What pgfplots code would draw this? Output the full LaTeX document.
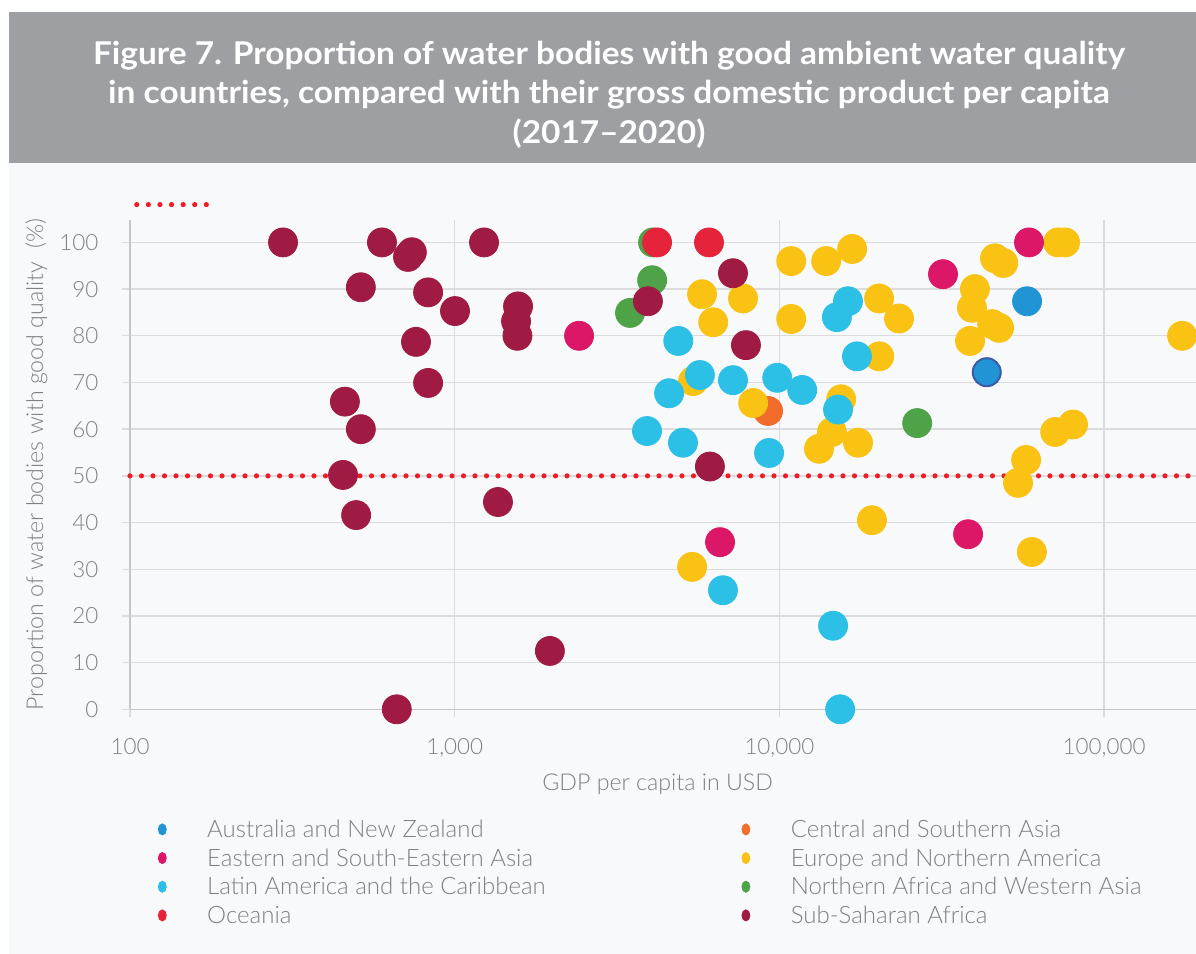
\documentclass[border=0pt]{standalone}
\usepackage{pgfplots}
\pgfplotsset{compat=1.18}
\usepackage{fontspec}
\IfFontExistsTF{Lato Light}
  {\setmainfont{Lato Light}[BoldFont=Lato Bold]}
  {\setmainfont{Lato}}

\definecolor{anz}{HTML}{2094D4}
\definecolor{anzedge}{HTML}{3B5BA9}
\definecolor{csa}{HTML}{F26C2C}
\definecolor{esea}{HTML}{DD1767}
\definecolor{ena}{HTML}{FAC314}
\definecolor{lac}{HTML}{2CC0E6}
\definecolor{nawa}{HTML}{4EA247}
\definecolor{oce}{HTML}{E5243B}
\definecolor{ssa}{HTML}{A01B43}
\definecolor{banner}{HTML}{9E9FA3}
\definecolor{panel}{HTML}{F8F9FB}
\definecolor{gridc}{HTML}{DCDCDC}
\definecolor{txt}{HTML}{808080}
\definecolor{thr}{HTML}{EE1D25}

\pgfplotsset{dot/.style={only marks, mark=*, mark size=7.25pt,
  mark options={draw=#1, fill=#1}, forget plot}}

\newlength\tw
\newcommand\tfont{\fontsize{15.7}{19}\selectfont\bfseries}

\begin{document}%
% title, squeezed to the width of the original line
\settowidth\tw{\tfont Figure 7. Proportion of water bodies with good ambient water quality}%
\pgfmathsetmacro\tsx{516/\the\tw}%
\begin{tikzpicture}
\fill[white] (0,0) rectangle (598pt,-477pt);
\fill[panel] (4.5pt,-81.35pt) rectangle (598pt,-477pt);
\fill[banner] (4.5pt,-6.15pt) rectangle (598pt,-81.35pt);

\node[anchor=base, text=white, font=\tfont] at (304.5pt,-32.15pt)
  {\scalebox{\tsx}[1]{Figure 7. Proportion of water bodies with good ambient water quality}};
\node[anchor=base, text=white, font=\tfont] at (304.5pt,-51.65pt)
  {\scalebox{\tsx}[1]{in countries, compared with their gross domestic product per capita}};
\node[anchor=base, text=white, font=\tfont] at (304.5pt,-71.5pt)
  {\scalebox{\tsx}[1]{(2017–2020)}};

\begin{axis}[
  at={(65pt,-354.65pt)}, anchor=south west,
  scale only axis, width=533pt, height=244.65pt,
  xmode=log, xmin=100, xmax=191900, ymin=0, ymax=104.8,
  xtick={100,1000,10000,100000},
  xticklabels={100,{1,000},{10,000},{100,000}},
  xminorticks=false,
  ytick={0,10,...,100},
  grid=major, major grid style={gridc, line width=0.7pt},
  axis x line*=bottom, axis y line*=left,
  axis line style={gridc!90!black, line width=0.7pt, -},
  tick align=outside, major tick length=4pt,
  tick style={gridc, line width=0.7pt},
  ticklabel style={font=\fontsize{11.2}{13}\selectfont, text=txt},
  xticklabel style={yshift=-7.2pt},
  yticklabel style={xshift=-8.3pt},
  /pgf/number format/assume math mode=true,
  xlabel={GDP per capita in USD},
  ylabel={Proportion of water bodies with good quality\ \ (\%)},
  label style={font=\fontsize{11.6}{14}\selectfont, text=txt},
  xlabel style={at={(axis description cs:0.495,-0.165)}, anchor=base},
  ylabel style={at={(axis description cs:-0.0816,0.5)}, anchor=base},
  clip=false,
  legend columns=2,
  legend style={at={(axis description cs:0.0258,-0.2283)}, anchor=north west,
    draw=none, fill=none, inner sep=0pt, row sep=4.33pt, column sep=0pt,
    cells={anchor=base west},
    nodes={inner sep=0pt, text height=8pt, text depth=2pt,
      font=\fontsize{12}{14}\selectfont, text=txt}},
  legend image code/.code={\fill[#1] (0pt,4pt) ellipse [x radius=2pt, y radius=2.8pt];},
]

% legend, in the order of the original (row by row)
\addlegendimage{anz}
\addlegendentry{\hspace*{20.25pt}\makebox[267.15pt][l]{Australia and New Zealand}}
\addlegendimage{csa}
\addlegendentry{\hspace*{20.25pt}Central and Southern Asia}
\addlegendimage{esea}
\addlegendentry{\hspace*{20.25pt}\makebox[267.15pt][l]{Eastern and South-Eastern Asia}}
\addlegendimage{ena}
\addlegendentry{\hspace*{20.25pt}Europe and Northern America}
\addlegendimage{lac}
\addlegendentry{\hspace*{20.25pt}\makebox[267.15pt][l]{Latin America and the Caribbean}}
\addlegendimage{nawa}
\addlegendentry{\hspace*{20.25pt}Northern Africa and Western Asia}
\addlegendimage{oce}
\addlegendentry{\hspace*{20.25pt}\makebox[267.15pt][l]{Oceania}}
\addlegendimage{ssa}
\addlegendentry{\hspace*{20.25pt}Sub-Saharan Africa}

% 50% threshold line and its (unlabelled) key
\addplot[thr, line width=2.6pt, line cap=round, dash pattern=on 0pt off 5.75pt, forget plot]
  coordinates {(100,50) (191900,50)};
\draw[thr, line width=2.6pt, line cap=round, dash pattern=on 0pt off 5.8pt]
  (axis cs:104.9,108.1) -- (axis cs:175,108.1);

% Central and Southern Asia
\addplot[dot=csa] coordinates {(9226,63.9)};

% Europe and Northern America
\addplot[dot=ena] coordinates {
  (10870,96) (5777,88.9) (7727,88) (6253,82.9) (10870,83.6) (5420,70.3)
  (8300,65.6) (5385,30.5) (13930,96) (16750,98.6) (20270,88) (23350,83.7)
  (20300,75.6) (15490,66.4) (14510,59.4) (13240,55.8) (17460,57.1) (19270,40.5)
  (46130,96.6) (48900,95.6) (40000,90) (39170,86) (45180,82.5) (47480,81.7)
  (38640,78.9) (72100,100) (75800,100) (173800,80) (70670,59.4) (80200,61)
  (57500,53.4) (54300,48.5) (59900,33.7)};

% Latin America and the Caribbean
\addplot[dot=lac] coordinates {
  (4880,78.9) (5689,71.6) (4573,67.7) (7195,70.5) (9846,71) (11750,68.4)
  (3910,59.6) (5046,57.1) (9292,54.9) (6700,25.5) (16260,87.4) (15030,84)
  (17330,75.6) (15150,64.2) (14630,17.9) (15380,0)};

% Northern Africa and Western Asia
\addplot[dot=nawa] coordinates {(4082,100) (4055,91.9) (3467,84.9) (26560,61.3)};

% Oceania
\addplot[dot=oce] coordinates {(4199,100) (6069,100)};

% Eastern and South-Eastern Asia
\addplot[dot=esea] coordinates {(2415,80) (6563,35.8) (31900,93.2) (58700,100) (38100,37.5)};

% Australia and New Zealand
\addplot[dot=anz] coordinates {(57900,87.4)};
\addplot[only marks, mark=*, mark size=7pt, mark options={draw=anzedge, fill=anz, line width=1pt}, forget plot]
  coordinates {(43500,72.2)};

% Sub-Saharan Africa
\addplot[dot=ssa] coordinates {
  (296,100) (597,100) (718,96.9) (738,97.9) (514,90.4) (828,89.3) (1002,85.3)
  (1231,100) (1567,86.3) (1545,83.1) (1560,80) (760,78.7) (828,69.9) (459,65.9)
  (514,60) (453,50.2) (497,41.6) (663,0) (1359,44.4) (1964,12.5) (3936,87.4)
  (7195,93.4) (7889,78) (6109,52)};

\end{axis}
\pgfresetboundingbox
\useasboundingbox (0,0) rectangle (598pt,-477pt);
\end{tikzpicture}%
\end{document}
